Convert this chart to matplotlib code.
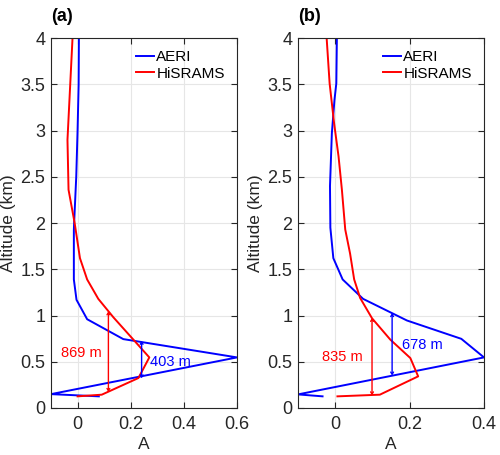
import matplotlib
matplotlib.use('Agg')
import matplotlib.pyplot as plt

plt.rcParams['font.family'] = ['Liberation Sans', 'DejaVu Sans']

# panel (a)
aeri_a_x = [0.08, -0.1, 0.6, 0.172, 0.036, -0.004, -0.014, -0.014, -0.013, -0.005, 0.0, 0.004, 0.005]
aeri_a_y = [0.126, 0.15, 0.547, 0.745, 0.96, 1.17, 1.39, 1.92, 2.0, 2.5, 3.0, 3.5, 4.0]
his_a_x = [0.0, 0.091, 0.229, 0.27, 0.135, 0.078, 0.036, 0.009, -0.011, -0.034, -0.038, -0.019]
his_a_y = [0.126, 0.144, 0.324, 0.547, 0.98, 1.18, 1.39, 1.62, 2.0, 2.36, 2.9, 4.0]

# panel (b)
aeri_b_x = [-0.034, -0.1, 0.4, 0.339, 0.193, 0.075, 0.02, -0.005, -0.013, -0.014, -0.009, -0.002, 0.003, 0.0045]
aeri_b_y = [0.126, 0.147, 0.547, 0.748, 0.946, 1.18, 1.39, 1.62, 1.95, 2.4, 2.97, 3.33, 3.51, 4.0]
his_b_x = [0.006, 0.12, 0.223, 0.202, 0.148, 0.099, 0.067, 0.051, 0.04, 0.027, 0.018, 0.009, -0.003, -0.015, -0.023]
his_b_y = [0.126, 0.144, 0.342, 0.54, 0.74, 0.97, 1.19, 1.39, 1.67, 1.93, 2.36, 2.72, 3.08, 3.51, 4.0]

# depth arrows: x, y bottom, y top, label, label x, label y, align, colour
arr_a = [(0.116, 0.175, 1.044, '869 m', 0.09, 0.6, 'right', 'r'),
         (0.241, 0.322, 0.725, '403 m', 0.273, 0.5, 'left', 'b')]
arr_b = [(0.099, 0.138, 0.973, '835 m', 0.074, 0.547, 'right', 'r'),
         (0.153, 0.352, 1.025, '678 m', 0.18, 0.683, 'left', 'b')]

fig = plt.figure(figsize=(5, 4.55), dpi=100)
ax1 = fig.add_axes([0.102, 0.1033, 0.372, 0.813])
ax2 = fig.add_axes([0.596, 0.1033, 0.372, 0.813])

panels = [(ax1, aeri_a_x, aeri_a_y, his_a_x, his_a_y, arr_a, (-0.1, 0.6), [0, 0.2, 0.4, 0.6], '(a)'),
          (ax2, aeri_b_x, aeri_b_y, his_b_x, his_b_y, arr_b, (-0.1, 0.4), [0, 0.2, 0.4], '(b)')]

dark = '#262626'
for ax, ax_x, ax_y, hx, hy, arrs, xl, xt, lab in panels:
    ax.plot(ax_x, ax_y, color='#0000ff', lw=1.4, label='AERI')
    ax.plot(hx, hy, color='#ff0000', lw=1.4, label='HiSRAMS')
    for x, y0, y1, txt, tx, ty, ha, c in arrs:
        ax.annotate('', xy=(x, y1), xytext=(x, y0),
                    arrowprops=dict(arrowstyle='<->,head_length=0.15,head_width=0.1', color=c, lw=1.0,
                                    shrinkA=0, shrinkB=0))
        ax.text(tx, ty, txt, color=c, fontsize=10.5, ha=ha, va='center')
    ax.set_xlim(xl)
    ax.set_ylim(0, 4)
    ax.set_xticks(xt)
    ax.set_xticklabels(['0' if v == 0 else ('%g' % v) for v in xt])
    ax.set_yticks([0, 0.5, 1, 1.5, 2, 2.5, 3, 3.5, 4])
    ax.set_yticklabels(['0', '0.5', '1', '1.5', '2', '2.5', '3', '3.5', '4'])
    ax.grid(True, color='#e6e6e6', lw=0.8)
    ax.set_axisbelow(True)
    ax.tick_params(direction='in', top=True, right=True, length=4, labelsize=13, colors=dark,
                   width=0.8, pad=4)
    ax.tick_params(axis='x', pad=6)
    for s in ax.spines.values():
        s.set_color(dark)
        s.set_linewidth(0.8)
    ax.set_xlabel('A', fontsize=12.5, color=dark, labelpad=3)
    ax.set_ylabel('Altitude (km)', fontsize=12.5, color=dark, labelpad=3)
    ax.text(0.0, 1.035, lab, transform=ax.transAxes, fontsize=13, fontweight='bold', ha='left', va='bottom')
    ax.legend(loc='upper right', frameon=False, fontsize=11, handlelength=1.2,
              handletextpad=0.15, labelspacing=0.15, borderaxespad=0.4)

fig.savefig('out.png', dpi=100)
